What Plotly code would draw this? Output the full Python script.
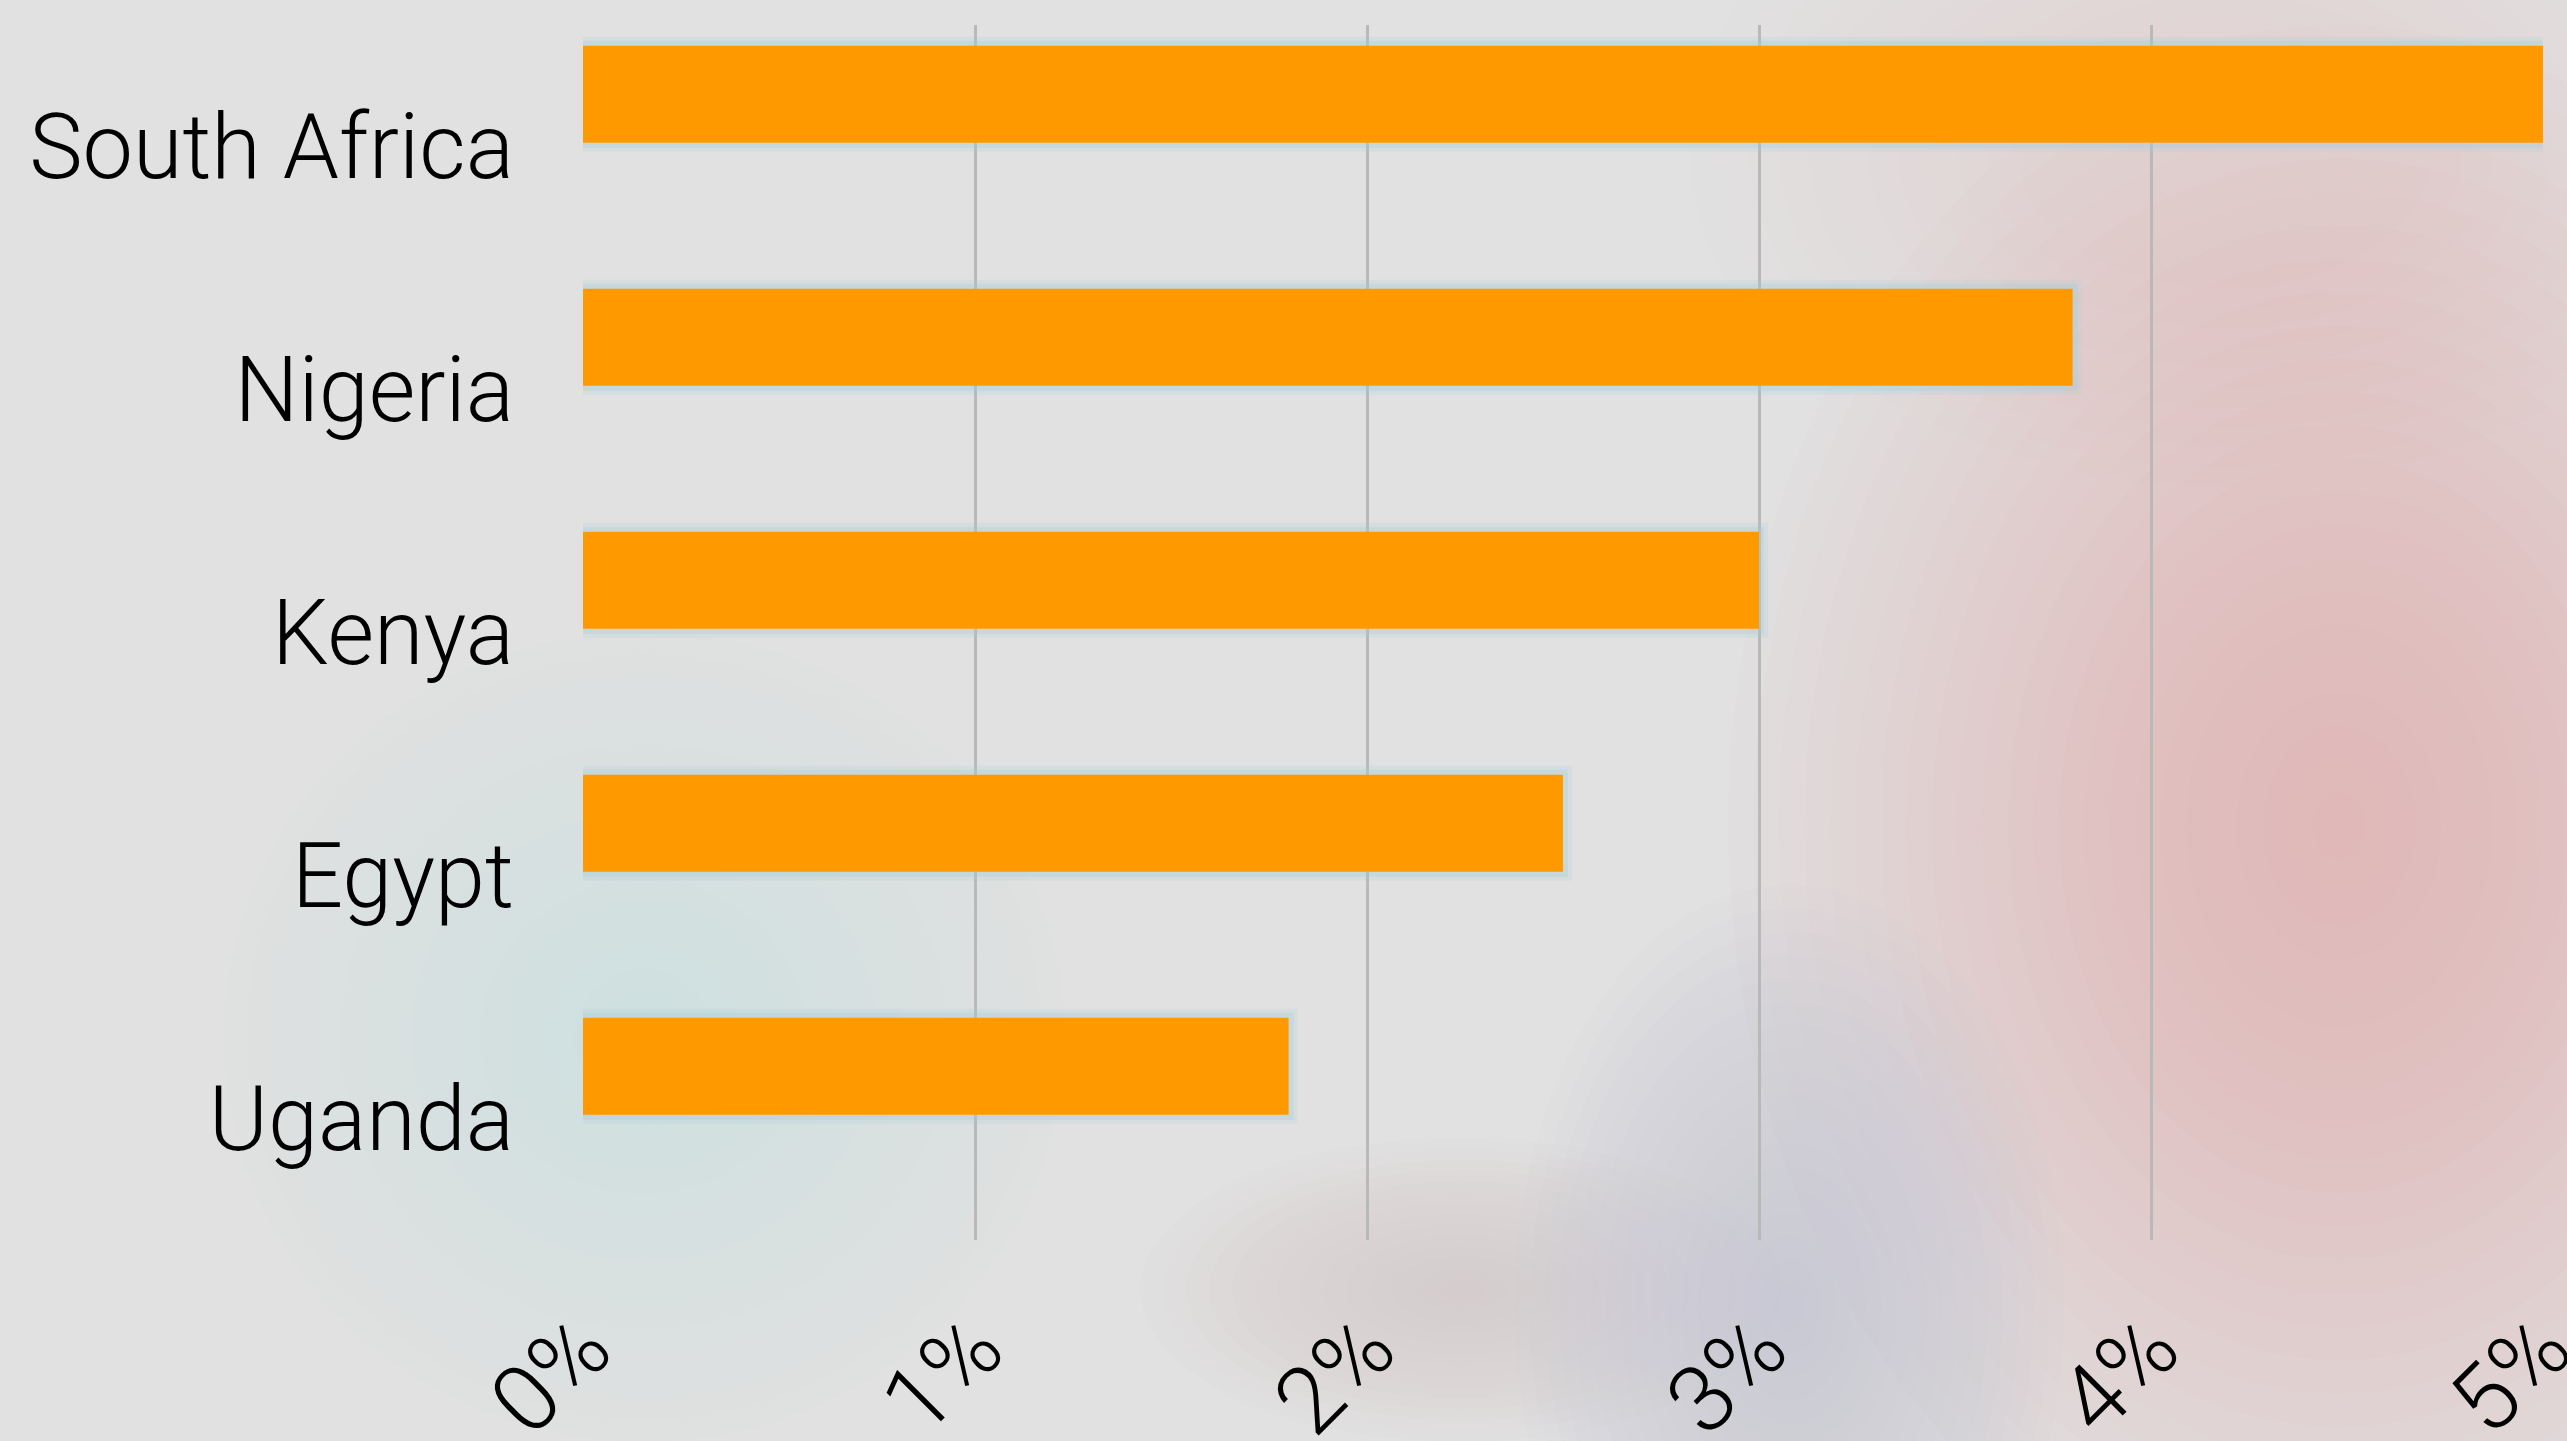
import plotly.graph_objects as go

countries = ["South Africa", "Nigeria", "Kenya", "Egypt", "Uganda"]
shares = [5.0, 3.8, 3.0, 2.5, 1.8]
tick_vals = [0, 1, 2, 3, 4, 5]
tick_text = ["0%", "1%", "2%", "3%", "4%", "5%"]

W, H = 2567, 1441
FONT = "Roboto"

fig = go.Figure()

# soft glow behind bars
for lw, a in [(18, 0.18), (10, 0.3)]:
    fig.add_trace(go.Bar(
        x=shares, y=countries, orientation="h",
        marker=dict(color="rgba(0,0,0,0)", line=dict(color=f"rgba(165,205,215,{a})", width=lw)),
        width=0.4, offset=-0.415, hoverinfo="skip", showlegend=False,
    ))
fig.add_trace(go.Bar(
    x=shares, y=countries, orientation="h",
    marker=dict(color="#FF9900", line=dict(width=0)),
    width=0.4, offset=-0.415, showlegend=False,
))

# decorative soft background (paper coords)
shapes = []
def blob(cx, cy, rx, ry, rgb, steps, alpha):
    for i in range(steps):
        f = 1 - i / steps
        shapes.append(dict(
            type="circle", xref="paper", yref="paper", layer="below",
            x0=(cx - rx * f) / W, x1=(cx + rx * f) / W,
            y0=1 - (cy + ry * f) / H, y1=1 - (cy - ry * f) / H,
            fillcolor=f"rgba({rgb},{alpha})", line=dict(width=0),
        ))

blob(2150, 150, 700, 420, "236,212,212", 18, 0.025)
blob(2300, 950, 800, 950, "218,150,152", 24, 0.03)
blob(1150, 1500, 420, 180, "230,170,170", 14, 0.025)
blob(1580, 1520, 360, 500, "172,176,192", 18, 0.025)
blob(80, 1200, 550, 480, "198,230,230", 18, 0.03)

fig.update_layout(
    width=W, height=H,
    paper_bgcolor="#e1e1e1",
    plot_bgcolor="rgba(0,0,0,0)",
    margin=dict(l=583, r=24, t=25, b=201, autoexpand=False),
    barmode="overlay",
    shapes=shapes,
    font=dict(family=FONT, color="#000000"),
    xaxis=dict(
        range=[0, 5], tickvals=tick_vals, ticktext=tick_text,
        tickangle=-45, tickfont=dict(size=94, family=FONT, color="#000", weight=300),
        ticklabeloverflow="allow", automargin=False,
        showgrid=True, gridcolor="#b9b9b9", gridwidth=3,
        zeroline=False, showline=False,
        ticks="outside", ticklen=14, tickcolor="rgba(0,0,0,0)",
    ),
    yaxis=dict(
        categoryorder="array", categoryarray=countries,
        range=[4.5, -0.5], autorange=False, automargin=False,
        tickfont=dict(size=90, family=FONT, color="#000", weight=300),
        showgrid=False, zeroline=False, showline=False,
        ticks="outside", ticklen=50, tickcolor="rgba(0,0,0,0)",
    ),
)

fig.write_html(
    "out.html",
    config={"displayModeBar": False},
    post_script="document.body.style.margin='0';document.body.style.overflow='hidden';",
)
